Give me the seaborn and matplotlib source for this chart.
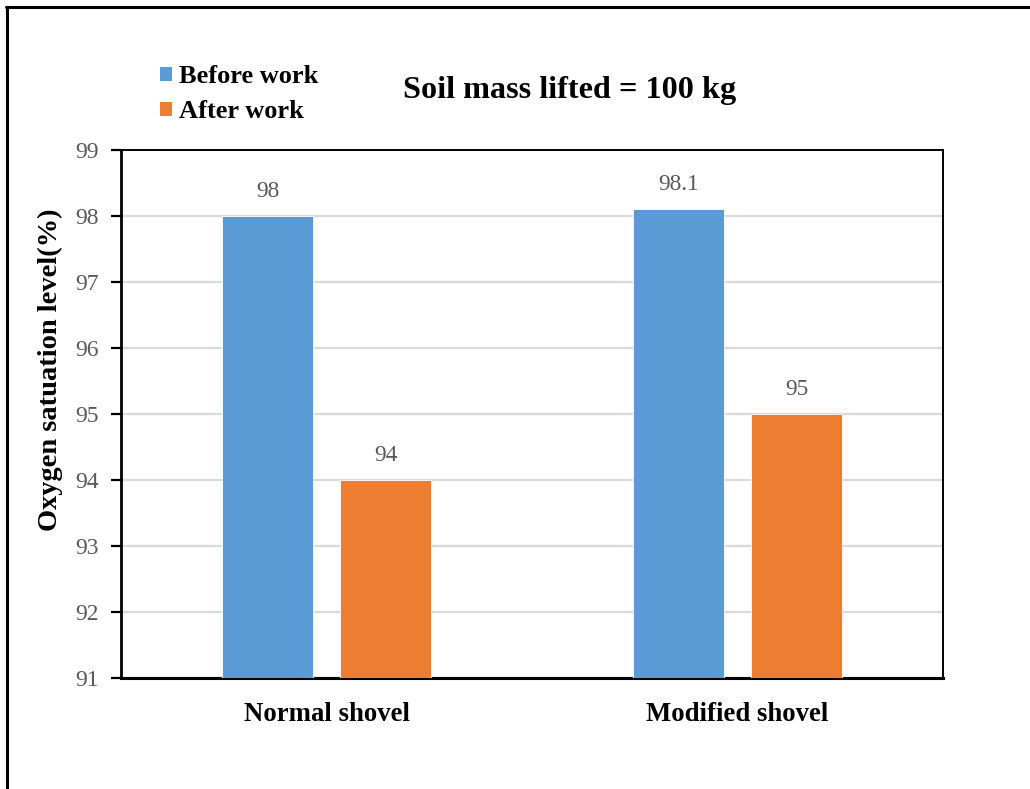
import matplotlib
matplotlib.use("Agg")
import matplotlib.pyplot as plt
from matplotlib.lines import Line2D
from matplotlib.patches import Patch
import seaborn as sns
import pandas as pd

# Oxygen saturation before and after digging work
shovels = ["Normal shovel", "Modified shovel"]
phases = ["Before work", "After work"]
before_work = [98.0, 98.1]
after_work = [94.0, 95.0]
y_ticks = [91, 92, 93, 94, 95, 96, 97, 98, 99]

df = pd.DataFrame({
    "Shovel": shovels * 2,
    "Phase": [phases[0]] * len(shovels) + [phases[1]] * len(shovels),
    "Saturation": before_work + after_work,
})

sns.set_theme(style="white")
plt.rcParams["font.family"] = ["Liberation Serif", "DejaVu Serif"]
plt.rcParams["text.color"] = "black"

colors = {"Before work": "#5B9BD5", "After work": "#ED7D31"}

fig = plt.figure(figsize=(10.30, 7.89), dpi=100)
ax = fig.add_axes([0.1175, 0.1407, 0.798, 0.6692])

sns.barplot(data=df, x="Shovel", y="Saturation", hue="Phase",
            order=shovels, hue_order=phases, palette=colors, saturation=1,
            width=0.574, gap=0.229, ax=ax, legend=False,
            edgecolor="white", linewidth=0.6, zorder=3)

ax.set_ylim(y_ticks[0], y_ticks[-1])
ax.set_xlim(-0.5, 1.5)
ax.set_yticks(y_ticks)
ax.set_yticklabels([str(t) for t in y_ticks])
ax.yaxis.grid(True, color="#D9D9D9", linewidth=1.6, zorder=0)
ax.set_axisbelow(True)

for side in ["top", "right"]:
    ax.spines[side].set_color("black")
    ax.spines[side].set_linewidth(1.4)
ax.spines["left"].set_color("black")
ax.spines["left"].set_linewidth(2.0)
ax.spines["bottom"].set_color("black")
ax.spines["bottom"].set_linewidth(2.2)

ax.tick_params(axis="y", which="major", direction="out", length=7, width=1.6,
               color="black", labelsize=17, labelcolor="#595959", left=True, pad=9)
ax.tick_params(axis="x", length=0, labelsize=19.3, labelcolor="black", pad=17)
for lbl in ax.get_xticklabels():
    lbl.set_fontweight("bold")

ax.set_xlabel("")
ax.set_ylabel("Oxygen satuation level(%)", fontsize=20.5, fontweight="bold",
              color="black")
ax.yaxis.set_label_coords(-0.071, 0.583)

for container in ax.containers:
    ax.bar_label(container, fmt="%g", padding=10, fontsize=16.8, color="#595959")

fig.text(0.5535, 0.885, "Soil mass lifted = 100 kg", ha="center", va="center",
         fontsize=23.2, fontweight="bold", color="black")

handles = [Patch(facecolor=colors[p], edgecolor="none") for p in phases]
leg = fig.legend(handles, phases, loc="upper left", bbox_to_anchor=(0.155, 0.917),
                 frameon=False, handlelength=0.45, handleheight=0.45, handletextpad=0.3,
                 labelspacing=0.45, borderaxespad=0, borderpad=0, labelcolor="black",
                 prop={"size": 19, "weight": "bold"})

# frame lines along the left and top edges of the figure
fig.add_artist(Line2D([0.0068, 0.0068], [0.0, 0.991], transform=fig.transFigure,
                      color="black", linewidth=2.2))
fig.add_artist(Line2D([0.0058, 1.0], [0.991, 0.991], transform=fig.transFigure,
                      color="black", linewidth=2.2))

fig.savefig("out.png", dpi=100, facecolor="white")
